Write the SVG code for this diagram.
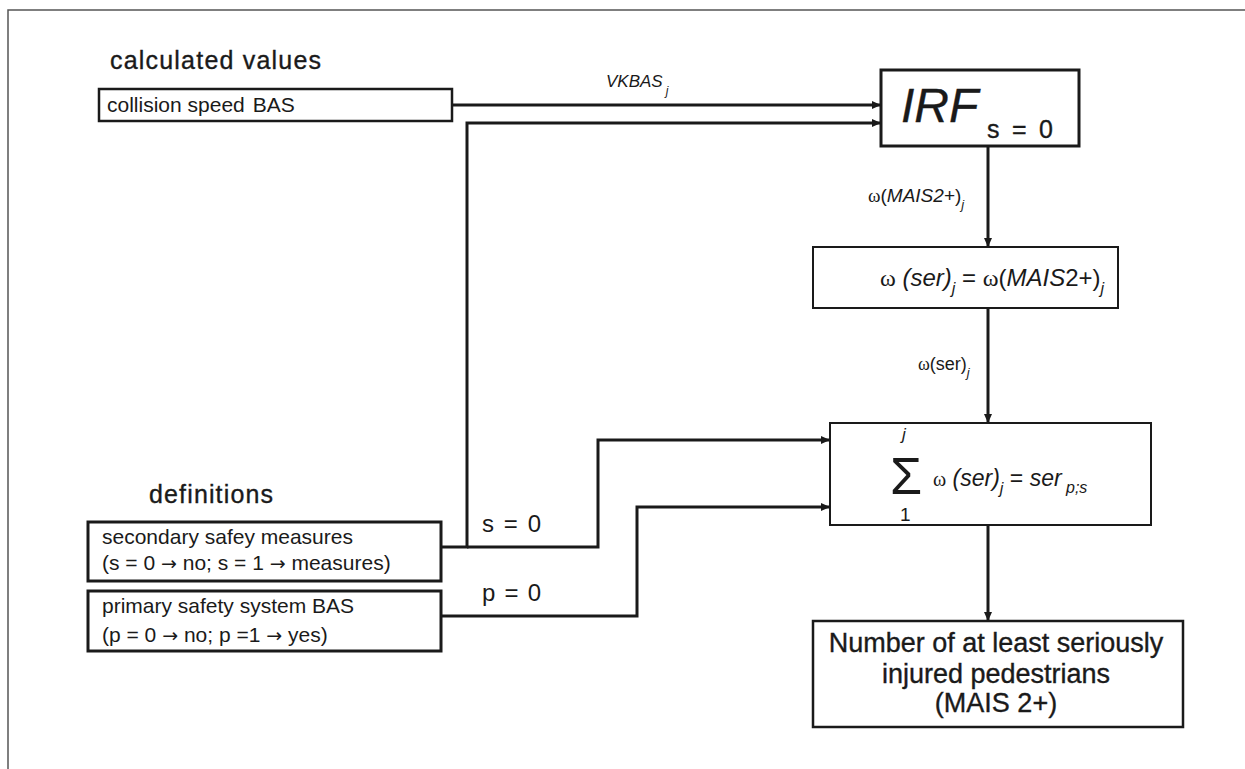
<svg xmlns="http://www.w3.org/2000/svg" width="1245" height="769" viewBox="0 0 1245 769">
<defs>
<style>
.t{font-family:"Liberation Sans",Arial,sans-serif;fill:#1a1a1a}
.med{stroke:#1a1a1a;stroke-width:0.35}
.it{font-style:italic}
.w{font-family:"Liberation Serif","Times New Roman",serif;font-style:normal}
.ar{font-family:"DejaVu Sans",sans-serif}
.box{fill:#fff;stroke:#1a1a1a}
.con{fill:none;stroke:#1a1a1a;stroke-width:3}
</style>
<marker id="ah" markerUnits="userSpaceOnUse" markerWidth="10" markerHeight="8" refX="9" refY="4" orient="auto">
<path d="M0,0 L9,4 L0,8 Z" fill="#1a1a1a"/>
</marker>
</defs>
<rect width="1245" height="769" fill="#fff"/>
<path d="M8,769 V10 H1245" fill="none" stroke="#555" stroke-width="1.5"/>

<text class="t med" x="110" y="69" font-size="25" textLength="211" lengthAdjust="spacing">calculated values</text>
<text class="t med" x="149" y="503" font-size="25" textLength="124" lengthAdjust="spacing">definitions</text>

<g id="collision">
<rect class="box" x="99" y="89" width="353" height="32" stroke-width="2.5"/>
<text class="t" x="107" y="112" font-size="21">collision speed<tspan dx="8">BAS</tspan></text>
</g>

<g id="irf">
<rect class="box" x="881" y="70" width="198" height="76" stroke-width="3"/>
<text class="t it med" x="901" y="122" font-size="48">IRF</text>
<text class="t med" x="987" y="138" font-size="25" textLength="66" lengthAdjust="spacing">s = 0</text>
</g>

<g id="ser">
<rect class="box" x="813" y="247" width="305" height="61" stroke-width="2"/>
<text class="t" x="880" y="286" font-size="24"><tspan class="w" font-size="24">ω</tspan> <tspan class="it">(ser)</tspan><tspan class="it" font-size="16" dy="8">j</tspan><tspan dy="-8"> = </tspan><tspan class="w" font-size="24">ω</tspan>(<tspan class="it">MAIS</tspan>2+)<tspan class="it" font-size="16" dy="8">j</tspan></text>
</g>

<g id="sum">
<rect class="box" x="830" y="423" width="321" height="102" stroke-width="2"/>
<text class="t" x="890" y="494" font-size="52">Σ</text>
<text class="t it" x="902" y="440" font-size="17">j</text>
<text class="t" x="900" y="521" font-size="19">1</text>
<text class="t" x="933" y="486" font-size="23"><tspan class="w" font-size="20">ω</tspan> <tspan class="it">(ser)</tspan><tspan class="it" font-size="16" dy="8">j</tspan><tspan dy="-8"> = </tspan><tspan class="it">ser</tspan><tspan class="it" font-size="16" dy="7"> p;s</tspan></text>
</g>

<g id="secondary">
<rect class="box" x="88" y="522" width="353" height="59" stroke-width="3"/>
<text class="t" x="102" y="544" font-size="21">secondary safey measures</text>
<text class="t" x="102" y="570" font-size="21">(s = 0 <tspan class="ar" font-size="19">→</tspan> no; s = 1 <tspan class="ar" font-size="19">→</tspan> measures)</text>
</g>

<g id="primary">
<rect class="box" x="88" y="591" width="353" height="60" stroke-width="3"/>
<text class="t" x="102" y="613" font-size="21">primary safety system BAS</text>
<text class="t" x="102" y="642" font-size="21">(p = 0 <tspan class="ar" font-size="19">→</tspan> no; p =1 <tspan class="ar" font-size="19">→</tspan> yes)</text>
</g>

<g id="result">
<rect class="box" x="813" y="621" width="370" height="106" stroke-width="2.5"/>
<text class="t med" x="996" y="652" font-size="27" text-anchor="middle">Number of at least seriously</text>
<text class="t med" x="996" y="683" font-size="27" text-anchor="middle">injured pedestrians</text>
<text class="t med" x="996" y="712" font-size="27" text-anchor="middle">(MAIS 2+)</text>
</g>

<g id="connectors">
<path class="con" d="M452,105 H881" marker-end="url(#ah)"/>
<path class="con" d="M441,547 H467 V123 H881" marker-end="url(#ah)"/>
<path class="con" d="M467,547 H598 V440 H830" marker-end="url(#ah)"/>
<path class="con" d="M441,616 H637 V507 H830" marker-end="url(#ah)"/>
<path class="con" d="M988,146 V247" marker-end="url(#ah)"/>
<path class="con" d="M988,308 V423" stroke-width="2.5" marker-end="url(#ah)"/>
<path class="con" d="M988,525 V621" stroke-width="2.5" marker-end="url(#ah)"/>
</g>

<g id="labels">
<text class="t" x="606" y="87" font-size="17"><tspan class="it">VKBAS</tspan><tspan class="it" font-size="12" dx="3" dy="8">j</tspan></text>
<text class="t" x="868" y="202" font-size="19"><tspan class="w">ω</tspan>(<tspan class="it">MAIS2+</tspan>)<tspan class="it" font-size="13" dy="7">j</tspan></text>
<text class="t" x="918" y="370" font-size="18"><tspan class="w">ω</tspan>(ser)<tspan class="it" font-size="13" dy="7">j</tspan></text>
<text class="t" x="482" y="532" font-size="24" textLength="59" lengthAdjust="spacing">s = 0</text>
<text class="t" x="482" y="601" font-size="24" textLength="59" lengthAdjust="spacing">p = 0</text>
</g>
</svg>
